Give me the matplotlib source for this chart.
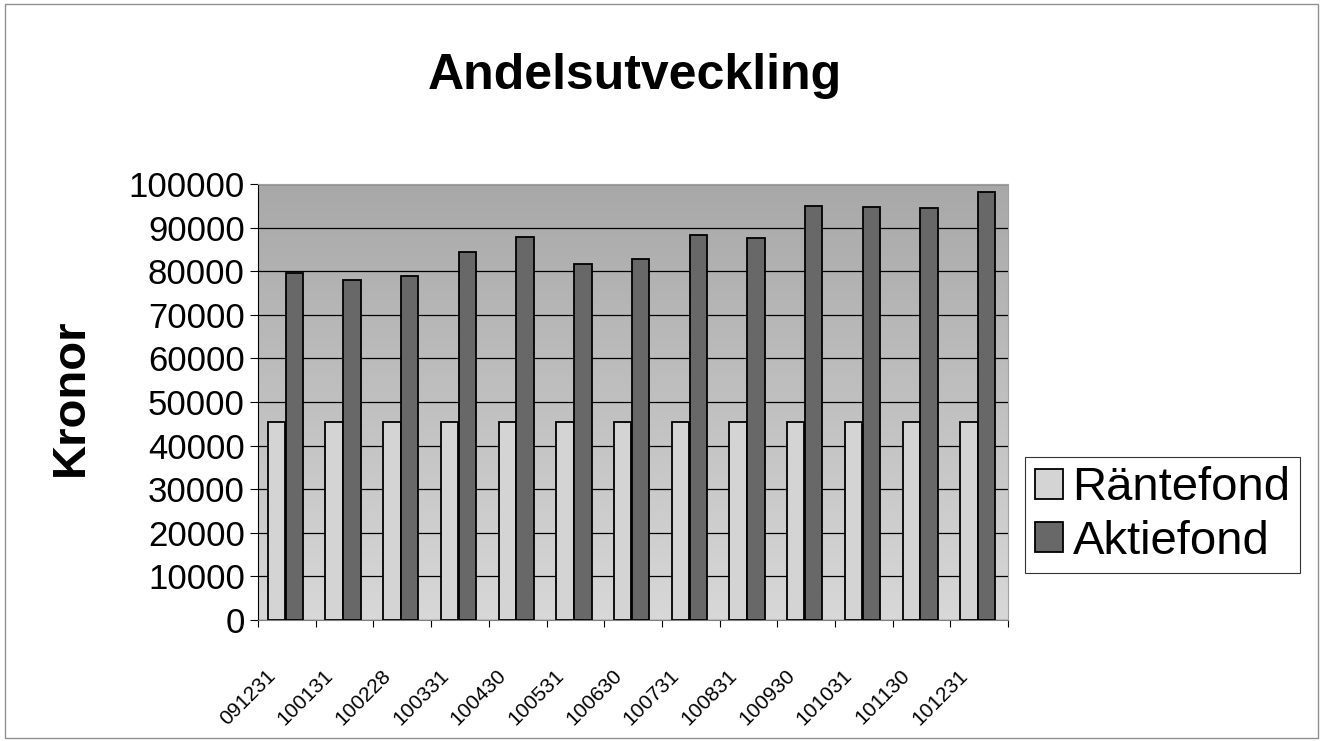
import numpy as np
import matplotlib
matplotlib.use("Agg")
import matplotlib.pyplot as plt
from matplotlib.patches import Rectangle
from matplotlib.colors import LinearSegmentedColormap

# Data
datum = ["091231", "100131", "100228", "100331", "100430", "100531", "100630",
         "100731", "100831", "100930", "101031", "101130", "101231"]
rantefond = [45500, 45500, 45500, 45500, 45500, 45500, 45500,
             45500, 45500, 45500, 45500, 45500, 45500]
aktiefond = [79600, 77900, 79000, 84400, 87900, 81600, 82700,
             88300, 87700, 95000, 94700, 94400, 98200]
y_ticks = list(range(0, 100001, 10000))

plt.rcParams['font.family'] = ['Liberation Sans', 'DejaVu Sans']

fig = plt.figure(figsize=(13.23, 7.41), dpi=100)
fig.patches.append(Rectangle((0.004, 0.004), 0.992, 0.99, transform=fig.transFigure,
                             fill=False, edgecolor='#909090', linewidth=1.0))

ax = fig.add_axes([0.195, 0.1633, 0.567, 0.5884])

n = len(datum)
x = np.arange(n)

# gradient background (darker at top)
grad = np.linspace(0, 1, 256).reshape(-1, 1)
ax.imshow(grad, cmap=LinearSegmentedColormap.from_list("bg", ["#d8d8d8", "#a8a8a8"]),
          aspect='auto', extent=(-0.5, n - 0.5, 0, 100000), origin='lower', zorder=0)

ax.bar(x - 0.18, rantefond, width=0.3, color='#d4d4d4', edgecolor='black',
       linewidth=1.3, label='Räntefond', zorder=3)
ax.bar(x + 0.13, aktiefond, width=0.3, color='#686868', edgecolor='black',
       linewidth=1.3, label='Aktiefond', zorder=3)

ax.set_xlim(-0.5, n - 0.5)
ax.set_ylim(0, 100000)
ax.set_yticks(y_ticks)
ax.set_yticklabels([str(v) for v in y_ticks], fontsize=25)
ax.grid(axis='y', color='black', linewidth=0.9, zorder=1)
ax.set_axisbelow(True)

# category ticks at boundaries, labels rotated
ax.set_xticks(np.arange(n + 1) - 0.5, minor=False)
ax.set_xticklabels([""] * (n + 1))
ax.set_xticks(x - 0.25, minor=True)
ax.set_xticklabels(datum, minor=True, rotation=45, ha='right', va='center',
                   rotation_mode='anchor', fontsize=15)
ax.tick_params(axis='x', which='minor', length=0, pad=38)
ax.tick_params(axis='x', which='major', length=5, direction='out')
ax.tick_params(axis='y', length=6, direction='out')

for side in ['top', 'right']:
    ax.spines[side].set_color('#a0a0a0')
ax.spines['left'].set_color('black')
ax.spines['bottom'].set_color('#808080')

ax.set_ylabel("Kronor", fontsize=34, fontweight='bold')
ax.yaxis.set_label_coords(-0.22, 0.51)
fig.suptitle("Andelsutveckling", fontsize=36, fontweight='bold', x=0.48, y=0.929)

leg = fig.legend(loc='center left', bbox_to_anchor=(0.775, 0.305), fontsize=34,
                 frameon=True, fancybox=False, edgecolor='black',
                 handlelength=0.6, handleheight=0.6, handletextpad=0.2,
                 borderpad=0.2, labelspacing=0.2, borderaxespad=0)
leg.get_frame().set_linewidth(0.8)

fig.savefig("out.png", dpi=100)
